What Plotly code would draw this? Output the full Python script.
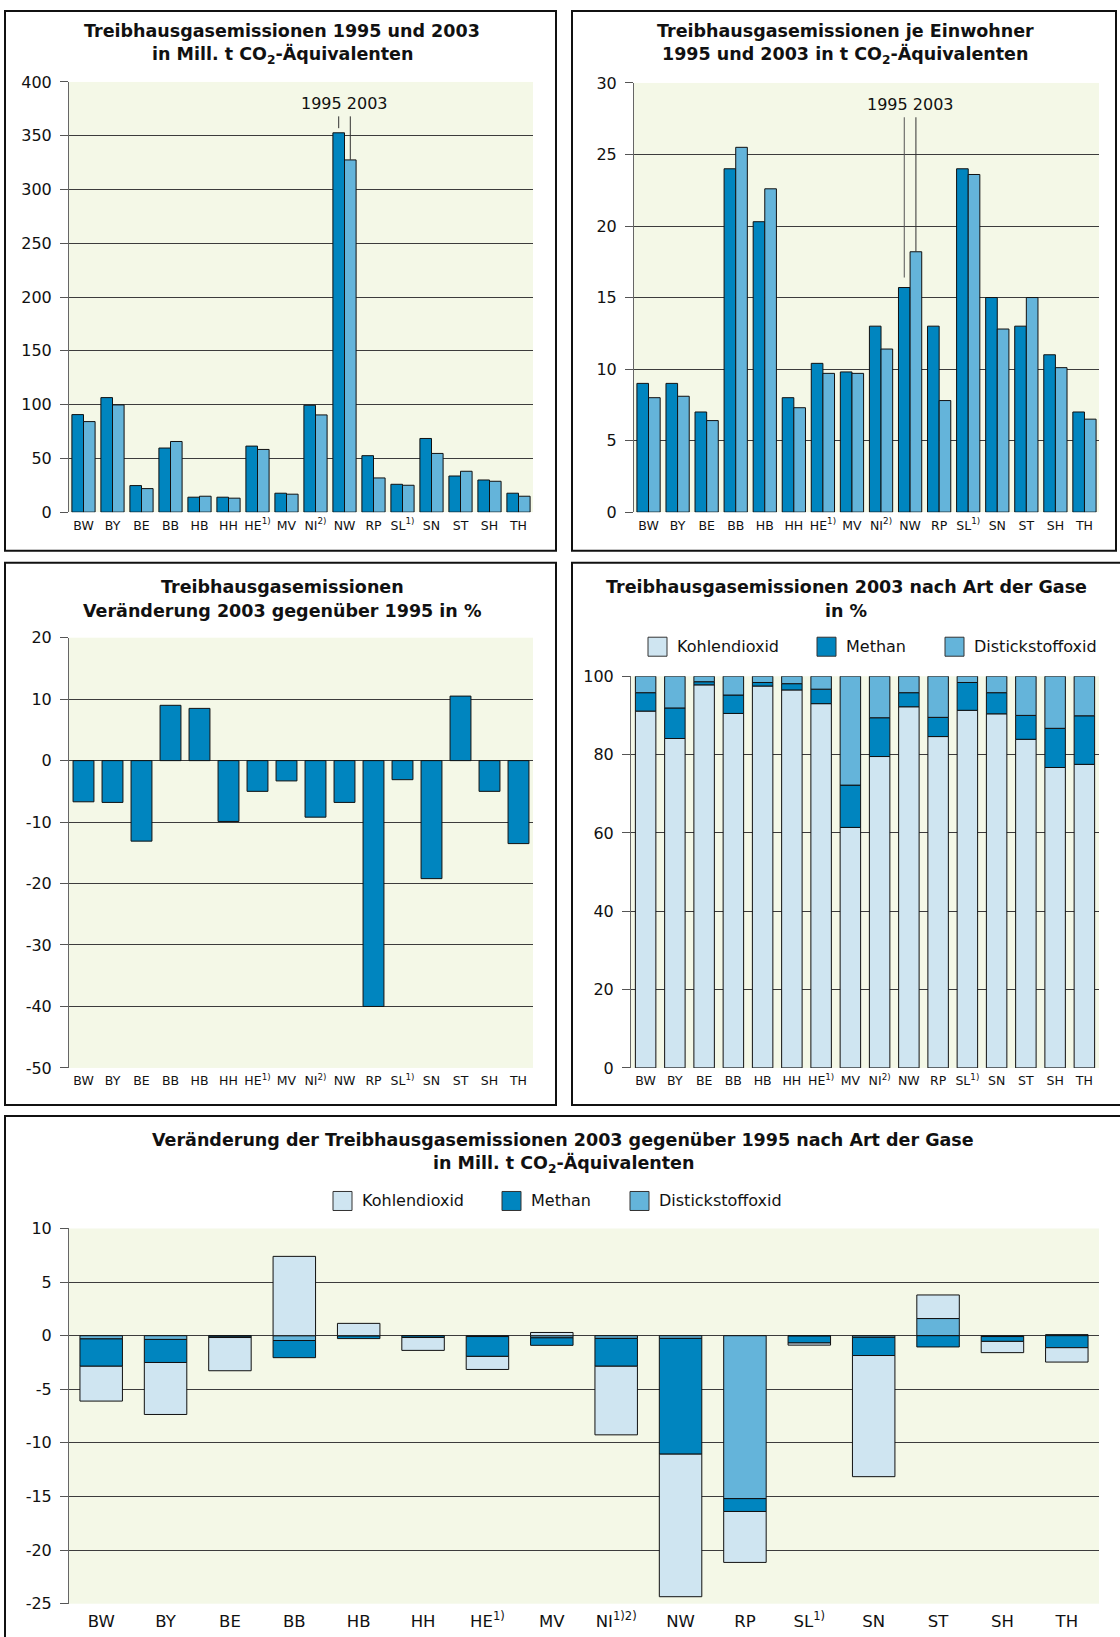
import plotly.graph_objects as go

# ---------------- data ----------------
states = ["BW", "BY", "BE", "BB", "HB", "HH", "HE", "MV", "NI", "NW", "RP", "SL", "SN", "ST", "SH", "TH"]
labels_top = ["BW", "BY", "BE", "BB", "HB", "HH", "HE<sup>1)</sup>", "MV", "NI<sup>2)</sup>", "NW",
              "RP", "SL<sup>1)</sup>", "SN", "ST", "SH", "TH"]
labels_bottom = ["BW", "BY", "BE", "BB", "HB", "HH", "HE<sup>1)</sup>", "MV", "NI<sup>1)2)</sup>", "NW",
                 "RP", "SL<sup>1)</sup>", "SN", "ST", "SH", "TH"]

emis_1995 = [90.7, 106.5, 24.7, 59.6, 13.9, 13.9, 61.4, 17.6, 99.4, 352.7, 52.5, 25.9, 68.5, 33.6, 29.9, 17.6]
emis_2003 = [84.2, 99.7, 21.9, 65.7, 14.8, 13.0, 58.3, 16.7, 90.4, 327.5, 31.8, 25.0, 54.6, 38.0, 28.7, 14.8]

percap_1995 = [9.0, 9.0, 7.0, 24.0, 20.3, 8.0, 10.4, 9.8, 13.0, 15.7, 13.0, 24.0, 15.0, 13.0, 11.0, 7.0]
percap_2003 = [8.0, 8.1, 6.4, 25.5, 22.6, 7.3, 9.7, 9.7, 11.4, 18.2, 7.8, 23.6, 12.8, 15.0, 10.1, 6.5]

change_pct = [-6.7, -6.8, -13.1, 9.0, 8.5, -9.9, -5.0, -3.3, -9.2, -6.8, -40.0, -3.1, -19.2, 10.5, -5.0, -13.5]

share_co2 = [91.1, 84.1, 97.8, 90.5, 97.5, 96.5, 93.0, 61.4, 79.5, 92.2, 84.6, 91.3, 90.4, 83.9, 76.7, 77.5]
share_ch4 = [4.7, 7.8, 0.8, 4.7, 0.9, 1.6, 3.7, 10.8, 9.9, 3.6, 4.9, 7.1, 5.4, 6.1, 10.0, 12.4]
share_n2o = [4.2, 8.1, 1.4, 4.8, 1.6, 1.9, 3.3, 27.8, 10.6, 4.2, 10.5, 1.6, 4.2, 10.0, 13.3, 10.1]

delta_co2 = [-3.25, -4.85, -3.1, 7.4, 1.15, -1.2, -1.22, 0.3, -6.4, -13.3, -4.75, -0.2, -11.3, 2.2, -1.05, -1.34]
delta_ch4 = [-2.55, -2.15, -0.12, -1.6, -0.25, -0.15, -1.85, -0.7, -2.6, -10.8, -1.2, -0.65, -1.7, -1.05, -0.45, -1.12]
delta_n2o = [-0.3, -0.35, -0.05, -0.45, -0.02, -0.02, -0.08, -0.2, -0.25, -0.25, -15.2, -0.03, -0.15, 1.6, -0.08, 0.1]

ticks_p1 = [0, 50, 100, 150, 200, 250, 300, 350, 400]
ticks_p2 = [0, 5, 10, 15, 20, 25, 30]
ticks_p3 = [20, 10, 0, -10, -20, -30, -40, -50]
ticks_p4 = [0, 20, 40, 60, 80, 100]
ticks_p5 = [10, 5, 0, -5, -10, -15, -20, -25]

# ---------------- style ----------------
# observed page -> picture mapping: picture_y = A + S * page_y
A, S = 8.6, 0.988
W, H = 1120, 1650
C_DARK = "#0085BF"
C_MED = "#64B4DA"
C_LIGHT = "#CFE5F1"
BG = "#F4F8E7"
GRID = "#3c3c3c"
FONT = "DejaVu Sans, Liberation Sans, Arial, sans-serif"

def fx(px):
    return px / W

def fy(py):
    return 1 - ((py - A) / S) / H

idx = list(range(len(states)))
left_pos = [i - 0.2 for i in idx]
right_pos = [i + 0.2 for i in idx]
outline = dict(color="#111111", width=1)

fig = go.Figure()

# panel 1
fig.add_trace(go.Bar(x=left_pos, y=emis_1995, width=0.4, marker=dict(color=C_DARK, line=outline),
                     xaxis="x", yaxis="y", showlegend=False, name="1995"))
fig.add_trace(go.Bar(x=right_pos, y=emis_2003, width=0.4, marker=dict(color=C_MED, line=outline),
                     xaxis="x", yaxis="y", showlegend=False, name="2003"))
# panel 2
fig.add_trace(go.Bar(x=left_pos, y=percap_1995, width=0.4, marker=dict(color=C_DARK, line=outline),
                     xaxis="x2", yaxis="y2", showlegend=False, name="1995"))
fig.add_trace(go.Bar(x=right_pos, y=percap_2003, width=0.4, marker=dict(color=C_MED, line=outline),
                     xaxis="x2", yaxis="y2", showlegend=False, name="2003"))
# panel 3
fig.add_trace(go.Bar(x=idx, y=change_pct, width=0.72, marker=dict(color=C_DARK, line=outline),
                     xaxis="x3", yaxis="y3", showlegend=False))
# panel 4 (stack bottom->top: CO2, CH4, N2O)
for vals, col, nm in [(share_co2, C_LIGHT, "Kohlendioxid"), (share_ch4, C_DARK, "Methan"),
                      (share_n2o, C_MED, "Distickstoffoxid")]:
    fig.add_trace(go.Bar(x=idx, y=vals, width=0.7, marker=dict(color=col, line=outline),
                         xaxis="x4", yaxis="y4", showlegend=False, name=nm))
# panel 5 (stack from zero: N2O, CH4, CO2)
for vals, col, nm in [(delta_n2o, C_MED, "Distickstoffoxid"), (delta_ch4, C_DARK, "Methan"),
                      (delta_co2, C_LIGHT, "Kohlendioxid")]:
    fig.add_trace(go.Bar(x=idx, y=vals, width=0.66, marker=dict(color=col, line=outline),
                         xaxis="x5", yaxis="y5", showlegend=False, name=nm))

def xax(x0, x1, anchor, labels, size, standoff):
    return dict(domain=[fx(x0), fx(x1)], range=[-0.5, 15.5], anchor=anchor,
                tickmode="array", tickvals=idx, ticktext=labels, showgrid=False,
                zeroline=False, showline=False, ticks="", fixedrange=True,
                ticklabelstandoff=standoff,
                tickfont=dict(family=FONT, size=size, color="#111"))

def yax(y_top, y_bot, anchor, rng, tickvals, size=16):
    return dict(domain=[fy(y_bot), fy(y_top)], range=rng, anchor=anchor,
                tickmode="array", tickvals=tickvals, ticktext=[str(v) for v in tickvals],
                showgrid=True, gridcolor=GRID, gridwidth=1, zeroline=False,
                showline=True, linecolor="#666", linewidth=1, ticks="outside",
                ticklen=8, tickcolor="#555", ticklabelstandoff=5,
                tickfont=dict(family=FONT, size=size, color="#111"))

layout = dict(
    width=W, height=H, margin=dict(l=0, r=0, t=0, b=0),
    paper_bgcolor="white", plot_bgcolor=BG, barmode="relative", showlegend=False,
    font=dict(family=FONT, color="#111"),
    xaxis=xax(69, 533, "y", labels_top, 12.5, 4),
    yaxis=yax(81.5, 511.5, "x", [0, 400], ticks_p1),
    xaxis2=xax(634, 1099, "y2", labels_top, 12.5, 4),
    yaxis2=yax(82.5, 511.5, "x2", [0, 30], ticks_p2),
    xaxis3=xax(69, 533, "y3", labels_top, 12.5, 4),
    yaxis3=yax(637, 1067, "x3", [-50, 20], ticks_p3),
    xaxis4=xax(631, 1099, "y4", labels_top, 12.5, 4),
    yaxis4=yax(675.5, 1067, "x4", [0, 100], ticks_p4),
    xaxis5=xax(69, 1099, "y5", labels_bottom, 16.5, 6),
    yaxis5=yax(1227.5, 1602.5, "x5", [-25, 10], ticks_p5),
)
fig.update_layout(**layout)

shapes = []
# frames (kept inside the drawable area)
for (x0, y0, x1, y1) in [(5, 10.5, 556, 550), (572, 10.5, 1116, 550), (5, 562, 556, 1104),
                         (572, 562, 1125, 1104), (5, 1115, 1125, 1660)]:
    shapes.append(dict(type="rect", xref="paper", yref="paper", x0=fx(x0), x1=fx(x1),
                       y0=fy(y1), y1=fy(y0), line=dict(color="#111", width=2), layer="above"))

# 1995/2003 pointer lines
nw = states.index("NW")
shapes += [
    dict(type="line", xref="x", yref="y", x0=nw - 0.2, x1=nw - 0.2, y0=368, y1=357, line=dict(color="#333", width=1)),
    dict(type="line", xref="x", yref="y", x0=nw + 0.2, x1=nw + 0.2, y0=368, y1=emis_2003[nw], line=dict(color="#333", width=1)),
    dict(type="line", xref="x2", yref="y2", x0=nw - 0.2, x1=nw - 0.2, y0=27.6, y1=16.4, line=dict(color="#555", width=1)),
    dict(type="line", xref="x2", yref="y2", x0=nw + 0.2, x1=nw + 0.2, y0=27.6, y1=percap_2003[nw], line=dict(color="#333", width=1)),
]

annotations = []
def title(cx, cy1, cy2, line1, line2):
    for cy, txt in [(cy1, line1), (cy2, line2)]:
        annotations.append(dict(xref="paper", yref="paper", x=fx(cx), y=fy(cy), text="<b>" + txt + "</b>",
                                showarrow=False, xanchor="center", yanchor="middle", align="center",
                                font=dict(family=FONT, size=17.5, color="#111")))

title(282, 31, 55, "Treibhausgasemissionen 1995 und 2003", "in Mill. t CO<sub>2</sub>-Äquivalenten")
title(845, 31, 55, "Treibhausgasemissionen je Einwohner", "1995 und 2003 in t CO<sub>2</sub>-Äquivalenten")
title(282, 586, 610, "Treibhausgasemissionen", "Veränderung 2003 gegenüber 1995 in %")
title(846, 586, 610, "Treibhausgasemissionen 2003 nach Art der Gase", "in %")
title(563, 1139, 1163, "Veränderung der Treibhausgasemissionen 2003 gegenüber 1995 nach Art der Gase",
      "in Mill. t CO<sub>2</sub>-Äquivalenten")

annotations.append(dict(xref="x", yref="y", x=nw, y=380, text="1995 2003", showarrow=False,
                        font=dict(family=FONT, size=16, color="#111")))
annotations.append(dict(xref="x2", yref="y2", x=nw, y=28.5, text="1995 2003", showarrow=False,
                        font=dict(family=FONT, size=16, color="#111")))

# manual legends
def legend(items, cy):
    for sx, tx, col, name in items:
        shapes.append(dict(type="rect", xref="paper", yref="paper", x0=fx(sx), x1=fx(sx + 19),
                           y0=fy(cy + 9.5), y1=fy(cy - 9.5), fillcolor=col,
                           line=dict(color="#333", width=1)))
        annotations.append(dict(xref="paper", yref="paper", x=fx(tx), y=fy(cy), text=name,
                                showarrow=False, xanchor="left", yanchor="middle",
                                font=dict(family=FONT, size=16, color="#111")))

legend([(648, 675, C_LIGHT, "Kohlendioxid"), (817, 844, C_DARK, "Methan"),
        (945, 972, C_MED, "Distickstoffoxid")], 646)
legend([(333, 360, C_LIGHT, "Kohlendioxid"), (502, 529, C_DARK, "Methan"),
        (630, 657, C_MED, "Distickstoffoxid")], 1200)

fig.update_layout(shapes=shapes, annotations=annotations)
fig.write_html(
    "out.html",
    config={"displayModeBar": False},
    post_script="document.body.style.margin='0px';document.body.style.padding='0px';"
                "document.documentElement.style.overflow='hidden';document.body.style.overflow='hidden';",
)
